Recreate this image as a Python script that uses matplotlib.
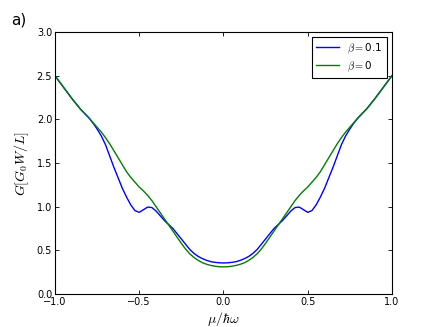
import matplotlib
matplotlib.use("Agg")
import matplotlib.pyplot as plt

x = [-1.0, -0.975, -0.95, -0.925, -0.9, -0.875, -0.85, -0.825, -0.8, -0.775,
     -0.75, -0.725, -0.7, -0.675, -0.65, -0.625, -0.6, -0.575, -0.55, -0.525,
     -0.5, -0.475, -0.45, -0.425, -0.4, -0.375, -0.35, -0.325, -0.3, -0.275,
     -0.25, -0.225, -0.2, -0.175, -0.15, -0.125, -0.1, -0.075, -0.05, -0.025,
     0.0,
     0.025, 0.05, 0.075, 0.1, 0.125, 0.15, 0.175, 0.2, 0.225, 0.25,
     0.275, 0.3, 0.325, 0.35, 0.375, 0.4, 0.425, 0.45, 0.475, 0.5,
     0.525, 0.55, 0.575, 0.6, 0.625, 0.65, 0.675, 0.7, 0.725, 0.75,
     0.775, 0.8, 0.825, 0.85, 0.875, 0.9, 0.925, 0.95, 0.975, 1.0]

g_beta01 = [2.50, 2.435, 2.37, 2.305, 2.24, 2.18, 2.12, 2.07, 2.02, 1.96,
            1.89, 1.81, 1.71, 1.58, 1.45, 1.33, 1.21, 1.11, 1.02, 0.955,
            0.935, 0.965, 0.995, 0.99, 0.95, 0.895, 0.84, 0.795, 0.75, 0.69,
            0.63, 0.57, 0.51, 0.465, 0.43, 0.405, 0.385, 0.37, 0.362, 0.357,
            0.355,
            0.357, 0.362, 0.37, 0.385, 0.405, 0.43, 0.465, 0.51, 0.57, 0.63,
            0.69, 0.75, 0.795, 0.84, 0.895, 0.95, 0.99, 0.995, 0.965, 0.935,
            0.955, 1.02, 1.11, 1.21, 1.33, 1.45, 1.58, 1.71, 1.81, 1.89,
            1.96, 2.02, 2.07, 2.12, 2.18, 2.24, 2.305, 2.37, 2.435, 2.50]

g_beta0 = [2.50, 2.435, 2.37, 2.305, 2.24, 2.18, 2.12, 2.07, 2.02, 1.965,
           1.91, 1.855, 1.79, 1.72, 1.64, 1.56, 1.48, 1.40, 1.335, 1.28,
           1.225, 1.18, 1.13, 1.07, 1.00, 0.93, 0.86, 0.79, 0.72, 0.65,
           0.58, 0.515, 0.46, 0.418, 0.385, 0.358, 0.34, 0.327, 0.318, 0.312,
           0.31,
           0.312, 0.318, 0.327, 0.34, 0.358, 0.385, 0.418, 0.46, 0.515, 0.58,
           0.65, 0.72, 0.79, 0.86, 0.93, 1.00, 1.07, 1.13, 1.18, 1.225,
           1.28, 1.335, 1.40, 1.48, 1.56, 1.64, 1.72, 1.79, 1.855, 1.91,
           1.965, 2.02, 2.07, 2.12, 2.18, 2.24, 2.305, 2.37, 2.435, 2.50]

xticks = [-1.0, -0.5, 0.0, 0.5, 1.0]
yticks = [0.0, 0.5, 1.0, 1.5, 2.0, 2.5, 3.0]

plt.rcParams['mathtext.fontset'] = 'cm'

fig = plt.figure(figsize=(4.36, 3.27), dpi=100)
ax = fig.add_axes([0.126, 0.101, 0.773, 0.801])
ax.plot(x, g_beta01, color=(0, 0, 1), lw=1.0, label=r'$\beta=$0.1')
ax.plot(x, g_beta0, color=(0, 0.5, 0), lw=1.0, label=r'$\beta=$0')
ax.set_xlim(-1, 1)
ax.set_ylim(0, 3)
ax.set_xticks(xticks)
ax.set_yticks(yticks)
ax.set_xticklabels([f"{t:.1f}".replace('-', '\u2212') for t in xticks])
ax.set_yticklabels([f"{t:.1f}" for t in yticks])
ax.tick_params(direction='in', top=True, right=True, labelsize=7, length=3, width=0.6, pad=2)
for s in ax.spines.values():
    s.set_linewidth(0.8)
ax.set_xlabel(r'$\mu/\hbar\omega$', fontsize=10, labelpad=2)
ax.set_ylabel(r'$G[G_0W/L]$', fontsize=10, labelpad=4)
leg = ax.legend(loc='upper right', fontsize=7.5, fancybox=False, framealpha=1,
                edgecolor='black', borderaxespad=0.5, handlelength=2.2,
                labelspacing=0.35)
leg.get_frame().set_linewidth(0.8)
fig.text(0.025, 0.925, 'a)', fontsize=11)
fig.savefig('out.png', dpi=100)
